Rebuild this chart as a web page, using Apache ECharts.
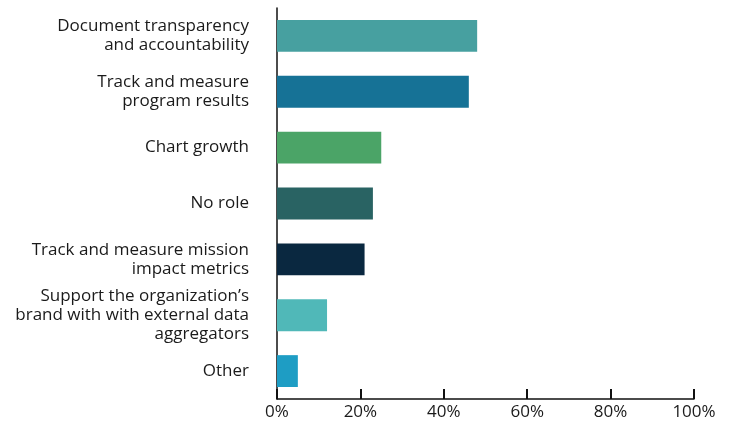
<!DOCTYPE html>
<html><head><meta charset="utf-8">
<script src="https://cdn.jsdelivr.net/npm/echarts@6/dist/echarts.min.js"></script>
<style>html,body{margin:0;padding:0;background:#fff}#c{width:733px;height:425px}</style>
</head><body><div id="c"></div>
<script>
const categories = [
  "Document transparency\nand accountability",
  "Track and measure\nprogram results",
  "Chart growth",
  "No role",
  "Track and measure mission\nimpact metrics",
  "Support the organization’s\nbrand with with external data\naggregators",
  "Other"
];
const values = [48, 46, 25, 23, 21, 12, 5];
const colors = ["#47A0A0", "#167296", "#4BA467", "#296363", "#0A2840", "#50B8B8", "#1E9DC4"];
const tickValues = [0, 20, 40, 60, 80, 100];

const chart = echarts.init(document.getElementById('c'), null, {renderer: 'canvas'});
chart.setOption({
  animation: false,
  grid: {left: 277, right: 39, top: 8, bottom: 26, containLabel: false},
  xAxis: {
    type: 'value', min: 0, max: 100, interval: 20,
    axisLine: {show: true, lineStyle: {color: '#111', width: 1.5}},
    axisTick: {show: true, inside: true, length: 10, lineStyle: {color: '#111', width: 2}},
    splitLine: {show: false},
    axisLabel: {color: '#1a1a1a', fontSize: 17, fontFamily: 'Open Sans', margin: 5,
      formatter: v => tickValues.includes(v) ? v + '%' : ''}
  },
  yAxis: {
    type: 'category', inverse: true, data: categories,
    axisLine: {show: true, lineStyle: {color: '#111', width: 1.5}},
    axisTick: {show: false},
    axisLabel: {color: '#1a1a1a', fontSize: 17, fontFamily: 'Open Sans', lineHeight: 19, margin: 28, align: 'right'}
  },
  series: [{
    type: 'bar', barWidth: '57%',
    data: values.map((v, i) => ({value: v, itemStyle: {color: colors[i]}}))
  }]
});
</script></body></html>
